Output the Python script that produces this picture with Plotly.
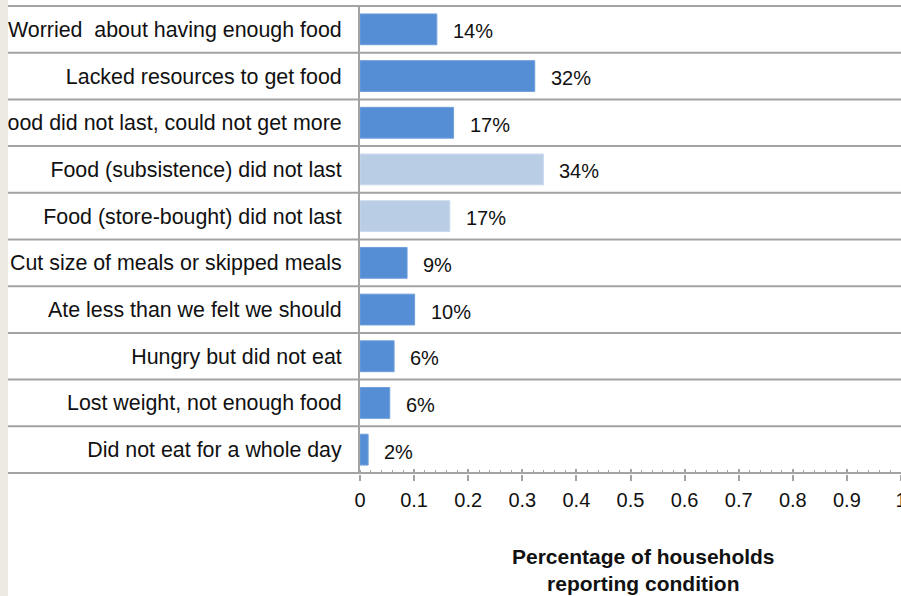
import plotly.graph_objects as go

categories = [
    "Worried\u00a0 about having enough food",
    "Lacked resources to get food",
    "Food did not last, could not get more",
    "Food (subsistence) did not last",
    "Food (store-bought) did not last",
    "Cut size of meals or skipped meals",
    "Ate less than we felt we should",
    "Hungry but did not eat",
    "Lost weight, not enough food",
    "Did not eat for a whole day",
]
values = [0.142, 0.323, 0.173, 0.339, 0.166, 0.087, 0.101, 0.063, 0.055, 0.015]
value_labels = ["14%", "32%", "17%", "34%", "17%", "9%", "10%", "6%", "6%", "2%"]
is_light = [False, False, False, True, True, False, False, False, False, False]
x_ticks = [0, 0.1, 0.2, 0.3, 0.4, 0.5, 0.6, 0.7, 0.8, 0.9, 1]
x_tick_labels = ["0", "0.1", "0.2", "0.3", "0.4", "0.5", "0.6", "0.7", "0.8", "0.9", "1"]

DARK = "#558ED5"
LIGHT = "#B9CDE5"
FONT = "Liberation Sans, Arial, sans-serif"
GRID = "#A3A3A3"

W, H = 901, 596
L, R, T, B = 360, 0, 5, 122
pw = W - L - R


def px_to_paper_x(p):
    return (p - L) / pw


colors = [LIGHT if l else DARK for l in is_light]
line_colors = ["#CAD9EC" if l else "#6F9EDB" for l in is_light]

fig = go.Figure()
fig.add_trace(go.Bar(
    y=categories, x=values, orientation="h",
    marker=dict(color=colors, line=dict(color=line_colors, width=1)),
    hoverinfo="skip",
))

# value labels
for c, v, t in zip(categories, values, value_labels):
    fig.add_annotation(x=v, y=c, xref="x", yref="y", text=t, showarrow=False,
                       xanchor="left", yanchor="middle", xshift=14, yshift=-2,
                       font=dict(family=FONT, size=20, color="#111111"))

# horizontal row separators extending under the category labels
n = len(categories)
for i in range(n + 1):
    fig.add_shape(type="line", xref="paper", yref="y",
                  x0=px_to_paper_x(8), x1=1, y0=i - 0.5, y1=i - 0.5,
                  line=dict(color=GRID, width=2), layer="below")

# beige strip on the far left
fig.add_shape(type="rect", xref="paper", yref="paper",
              x0=px_to_paper_x(0), x1=px_to_paper_x(8), y0=-1, y1=1.1,
              fillcolor="#EDEBE1", line=dict(width=0), layer="above")

# axis title
fig.add_annotation(xref="paper", yref="paper", x=px_to_paper_x(643), y=-(570 - (H - B)) / (H - T - B),
                   text="<b>Percentage of households<br>reporting condition</b>",
                   showarrow=False, xanchor="center", yanchor="middle",
                   font=dict(family=FONT, size=21, color="#111111"))

fig.update_layout(
    width=W, height=H,
    margin=dict(l=L, r=R, t=T, b=B, pad=0, autoexpand=False),
    paper_bgcolor="white", plot_bgcolor="white",
    showlegend=False,
    bargap=0.34,
    font=dict(family=FONT, size=20, color="#111111"),
    xaxis=dict(
        range=[0, 1], tickvals=x_ticks, ticktext=x_tick_labels,
        ticks="outside", ticklen=6, tickwidth=2, tickcolor=GRID,
        showgrid=False, zeroline=False, showline=False, automargin=False,
        tickfont=dict(family=FONT, size=20, color="#111111"),
        ticklabelstandoff=2, ticklabeloverflow="allow",
        minor=dict(dtick=0.02, ticks="inside", ticklen=4, tickwidth=1, tickcolor=GRID),
    ),
    xaxis2=dict(
        range=[0, 1], overlaying="x", anchor="y", side="bottom", automargin=False,
        tickvals=x_ticks, ticks="inside", ticklen=5, tickwidth=2, tickcolor=GRID,
        showticklabels=False, showgrid=False, zeroline=False, showline=False,
    ),
    yaxis=dict(
        type="category", categoryorder="array", categoryarray=categories,
        autorange="reversed", range=[n - 0.5, -0.5], automargin=False,
        showline=True, linecolor=GRID, linewidth=2,
        ticks="", showgrid=False, zeroline=False,
        ticklabelstandoff=12,
        tickfont=dict(family=FONT, size=21.4, color="#111111"),
    ),
)
fig.add_trace(go.Scatter(x=[None], y=[None], xaxis="x2", yaxis="y", showlegend=False, hoverinfo="skip"))

fig.write_html("out.html")
